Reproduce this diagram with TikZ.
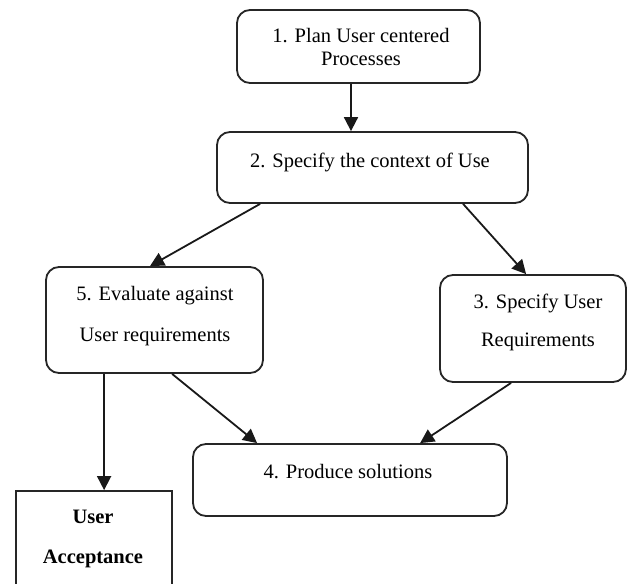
\documentclass[tikz,border=0pt]{standalone}
\usepackage{fontspec}
\setmainfont{Liberation Serif}
\usetikzlibrary{arrows.meta}
\begin{document}
\begin{tikzpicture}[x=1pt,y=-1pt,
  box/.style={draw=black!85,line width=1.8pt,rounded corners=13pt,inner sep=0pt},
  sqbox/.style={draw=black!85,line width=1.8pt,inner sep=0pt},
  txt/.style={anchor=base,inner sep=0pt,font=\fontsize{20.5}{23}\selectfont},
  arr/.style={line width=1.8pt,draw=black!90,-{Triangle[length=14pt,width=14pt]}}]
\clip (0,0) rectangle (627,584);
\fill[white] (0,0) rectangle (627,584);
% boxes
\node[box,minimum width=243pt,minimum height=73pt] (b1) at (358.5,46.5) {};
\node[box,minimum width=311pt,minimum height=71pt] (b2) at (372.5,167.5) {};
\node[box,minimum width=217pt,minimum height=106pt] (b5) at (154.5,320) {};
\node[box,minimum width=186pt,minimum height=107pt] (b3) at (533,328.5) {};
\node[box,minimum width=314pt,minimum height=72pt] (b4) at (350,480) {};
\node[sqbox,minimum width=156pt,minimum height=140pt] (ua) at (94,561) {};
% texts
\node[txt] (t1a) at (361,42) {1. Plan User centered};
\node[txt] (t1b) at (361,65) {Processes};
\node[txt] (t2) at (370,167) {2. Specify the context of Use};
\node[txt] (t5a) at (155,300) {5. Evaluate against};
\node[txt] (t5b) at (155,341) {User requirements};
\node[txt] (t3a) at (538,308) {3. Specify User};
\node[txt] (t3b) at (538,346) {Requirements};
\node[txt] (t4) at (348,478) {4. Produce solutions};
\node[txt,font=\fontsize{20.5}{23}\selectfont\bfseries] (tua1) at (93,523) {User};
\node[txt,font=\fontsize{20.5}{23}\selectfont\bfseries] (tua2) at (93,563) {Acceptance};
% arrows
\draw[arr] ([xshift=-7.5pt]b1.south) -- ([xshift=-21.5pt]b2.north);
\draw[arr] ([xshift=44pt]b2.south west) -- ([xshift=-4.5pt]b5.north);
\draw[arr] ([xshift=247pt]b2.south west) -- ([xshift=87pt]b3.north west);
\draw[arr] ([xshift=127pt]b5.south west) -- ([xshift=65pt]b4.north west);
\draw[arr] ([xshift=72pt]b3.south west) -- ([xshift=228pt]b4.north west);
\draw[arr] ([xshift=59pt]b5.south west) -- ([xshift=89pt]ua.north west);
\end{tikzpicture}
\end{document}
